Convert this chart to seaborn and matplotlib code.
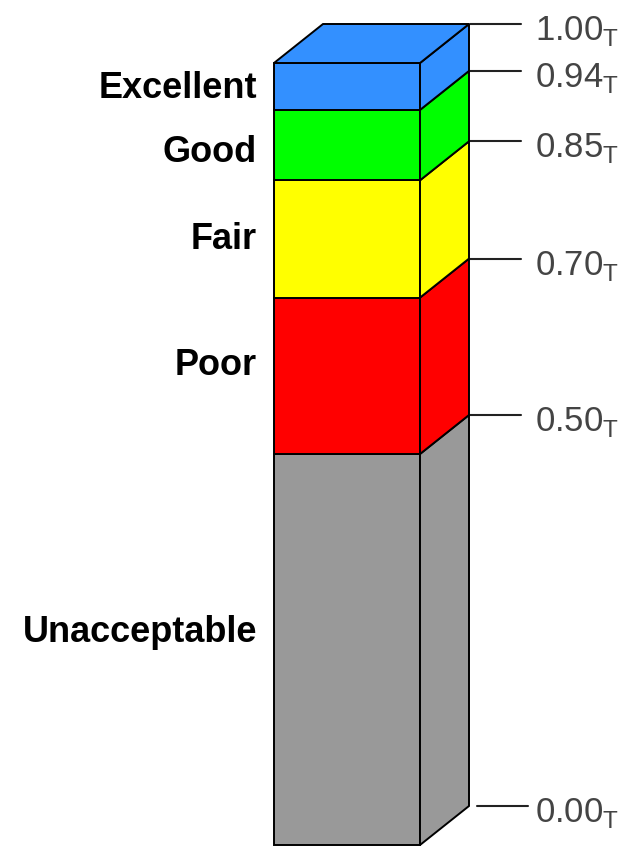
import numpy as np
import matplotlib
matplotlib.use("Agg")
import matplotlib.pyplot as plt
import seaborn as sns
from matplotlib.patches import Polygon

# datos de las bandas (de abajo hacia arriba)
categories = ["Unacceptable", "Poor", "Fair", "Good", "Excellent"]
thresholds = [0.00, 0.50, 0.70, 0.85, 0.94, 1.00]
tick_labels = ["0.00", "0.50", "0.70", "0.85", "0.94", "1.00"]
label_pos = [0.272, 0.613, 0.774, 0.886, 0.968]
colors = ["#999999", "#ff0000", "#ffff00", "#00ff00", "#3390ff"]

sns.set_theme(style="white")
plt.rcParams["font.family"] = ["Liberation Sans", "DejaVu Sans"]
plt.rcParams["mathtext.fontset"] = "custom"
plt.rcParams["mathtext.rm"] = "Liberation Sans"

fig = plt.figure(figsize=(6.29, 8.51), dpi=100)
ax = fig.add_axes([0, 0, 1, 1])
ax.set_xlim(0, 629)
ax.set_ylim(-6 / 782, 845 / 782)
ax.axis("off")

# geometria de la columna 3D
x0, w = 274, 146
x1 = x0 + w
dx, dv = 49, 39 / 782
lw = 1.4
px = 1 / 782  # un pixel en unidades del eje y

for lo, hi, c in zip(thresholds[:-1], thresholds[1:], colors):
    ax.bar(x0 + w / 2, hi - lo, bottom=lo, width=w, color=c,
           edgecolor="black", linewidth=lw, zorder=2)
    side = Polygon([(x1, lo), (x1 + dx, lo + dv), (x1 + dx, hi + dv), (x1, hi)],
                   closed=True, facecolor=c, edgecolor="black", linewidth=lw, zorder=2)
    ax.add_patch(side)

top = thresholds[-1]
ax.add_patch(Polygon([(x0, top), (x0 + dx, top + dv), (x1 + dx, top + dv), (x1, top)],
                     closed=True, facecolor=colors[-1], edgecolor="black",
                     linewidth=lw, zorder=2))

# marcas y etiquetas a la derecha
for v, t in zip(thresholds, tick_labels):
    y = v + dv
    x_start = x1 + dx + (8 if v == 0 else 1)
    ax.plot([x_start, x_start + 51], [y, y], color="#222222", lw=1.5, zorder=1)
    ax.text(535, y - 7 * px, t + r"$_\mathrm{T}$", fontsize=25, color="#444444",
            ha="left", va="center")

# nombres de las categorias a la izquierda
for name, p in zip(categories, label_pos):
    ax.text(257, p, name, fontsize=26, fontweight="bold", color="black",
            ha="right", va="center")

plt.savefig("out.png", dpi=100)
